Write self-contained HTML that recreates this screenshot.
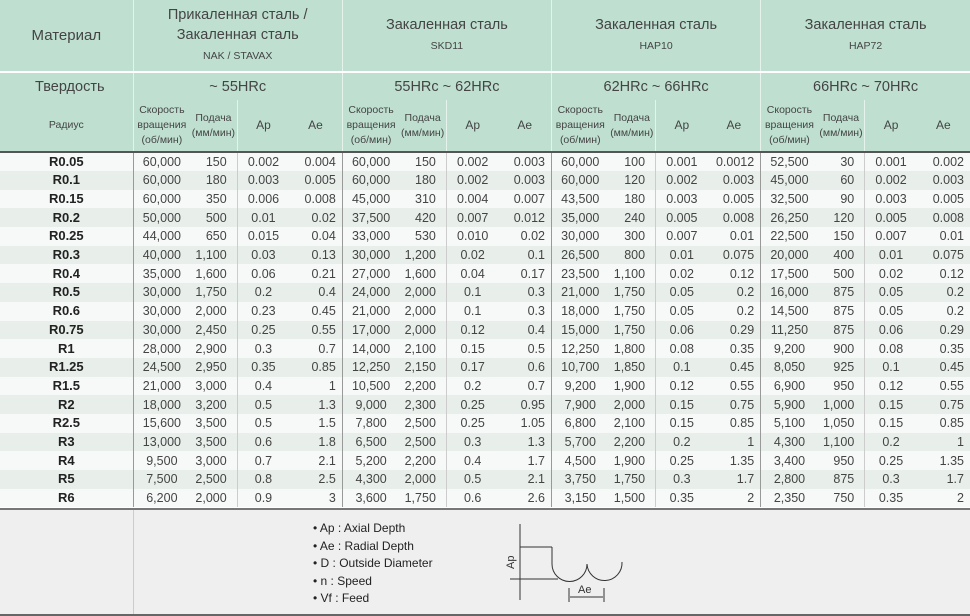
<!DOCTYPE html>
<html><head><meta charset="utf-8"><style>
*{margin:0;padding:0;box-sizing:border-box}
body{width:970px;height:616px;background:#fff;font-family:"Liberation Sans","DejaVu Sans",sans-serif;color:#333;position:relative;overflow:hidden}
table{border-collapse:collapse;table-layout:fixed;position:absolute;left:0;top:0;width:970px}
td{font-size:12.5px;white-space:nowrap;overflow:hidden}
.h td{background:#bfe0d1;color:#444;text-align:center;vertical-align:middle}
.r1 td{height:72px;font-size:14.5px;line-height:20px;border-bottom:2px solid #fff}
.r2 td{height:28px;font-size:14.5px}
.r3 td{height:52px;font-size:10.5px;line-height:15px;border-bottom:2px solid #555}
.h td.b{border-left:1px solid #e6f3ec}
.sm{font-size:10.5px}
.d td{height:18.7px;line-height:18px;font-size:12.5px;color:#444}
.d:nth-child(odd) td{background:#f6f9f7}
.d:nth-child(even) td{background:#e8efeb}
.d td.n{text-align:center;font-weight:bold;color:#222;font-size:13px}
.d td.s{text-align:center;border-left:1px solid #999}
.d td.f{text-align:right;padding-right:10px}
.d td.a{text-align:center;border-left:1px solid #ccc}
.d td.e{text-align:right;padding-right:6px}
#foot{position:absolute;left:0;top:508px;width:970px;height:108px;background:#efefef;border-top:2px solid #777;border-bottom:2px solid #666}
#foot .l{position:absolute;left:133px;top:0;bottom:0;border-left:1px solid #ccc}
#leg{position:absolute;left:313px;top:10px;font-size:12px;line-height:17.5px;color:#222}
</style></head><body>
<table>
<colgroup><col style="width:133px">
<col style="width:57px"><col style="width:47px"><col style="width:52px"><col style="width:53px">
<col style="width:57px"><col style="width:47px"><col style="width:52px"><col style="width:53px">
<col style="width:57px"><col style="width:47px"><col style="width:52px"><col style="width:53px">
<col style="width:57px"><col style="width:47px"><col style="width:52px"><col style="width:53px">
</colgroup>
<tr class="h r1"><td style="font-size:15px">Материал</td>
<td colspan="4" class="b">Прикаленная сталь /<br>Закаленная сталь<br><span class="sm">NAK / STAVAX</span></td>
<td colspan="4" class="b">Закаленная сталь<br><span class="sm">SKD11</span></td>
<td colspan="4" class="b">Закаленная сталь<br><span class="sm">HAP10</span></td>
<td colspan="4" class="b">Закаленная сталь<br><span class="sm">HAP72</span></td></tr>
<tr class="h r2"><td style="text-align:left;padding-left:35px">Твердость</td>
<td colspan="4" class="b">~ 55HRc</td><td colspan="4" class="b">55HRc ~ 62HRc</td><td colspan="4" class="b">62HRc ~ 66HRc</td><td colspan="4" class="b">66HRc ~ 70HRc</td></tr>
<tr class="h r3"><td>Радиус</td>
<td class="b">Скорость<br>вращения<br>(об/мин)</td><td>Подача<br>(мм/мин)</td><td class="b" style="font-size:12px">Ap</td><td style="font-size:12px">Ae</td>
<td class="b">Скорость<br>вращения<br>(об/мин)</td><td>Подача<br>(мм/мин)</td><td class="b" style="font-size:12px">Ap</td><td style="font-size:12px">Ae</td>
<td class="b">Скорость<br>вращения<br>(об/мин)</td><td>Подача<br>(мм/мин)</td><td class="b" style="font-size:12px">Ap</td><td style="font-size:12px">Ae</td>
<td class="b">Скорость<br>вращения<br>(об/мин)</td><td>Подача<br>(мм/мин)</td><td class="b" style="font-size:12px">Ap</td><td style="font-size:12px">Ae</td></tr>
<tbody id="tb"></tbody>
</table>
<div id="foot"><div class="l"></div>
<div id="leg">• Ap : Axial Depth<br>• Ae : Radial Depth<br>• D : Outside Diameter<br>• n : Speed<br>• Vf : Feed</div>
<svg style="position:absolute;left:490px;top:0" width="150" height="106" viewBox="0 0 150 106" fill="none" stroke="#333" stroke-width="1">
<line x1="30" y1="14" x2="30" y2="90"/>
<line x1="30" y1="37" x2="62" y2="37"/><line x1="62" y1="37" x2="62" y2="54"/>
<path d="M62 54 A17.5 17.5 0 0 0 97 54 A17.5 17.5 0 0 0 132 52"/>
<line x1="20" y1="69" x2="68" y2="69"/>
<line x1="79" y1="78" x2="79" y2="92"/><line x1="114" y1="78" x2="114" y2="92"/>
<line x1="80" y1="87" x2="113" y2="87"/>
<text x="-59" y="24" transform="rotate(-90)" font-size="11" fill="#333" stroke="none" font-family="Liberation Sans">Ap</text>
<text x="88" y="83" font-size="11" fill="#333" stroke="none" font-family="Liberation Sans">Ae</text>
</svg></div>
<script>
var D=`R0.05|60,000|150|0.002|0.004|60,000|150|0.002|0.003|60,000|100|0.001|0.0012|52,500|30|0.001|0.002
R0.1|60,000|180|0.003|0.005|60,000|180|0.002|0.003|60,000|120|0.002|0.003|45,000|60|0.002|0.003
R0.15|60,000|350|0.006|0.008|45,000|310|0.004|0.007|43,500|180|0.003|0.005|32,500|90|0.003|0.005
R0.2|50,000|500|0.01|0.02|37,500|420|0.007|0.012|35,000|240|0.005|0.008|26,250|120|0.005|0.008
R0.25|44,000|650|0.015|0.04|33,000|530|0.010|0.02|30,000|300|0.007|0.01|22,500|150|0.007|0.01
R0.3|40,000|1,100|0.03|0.13|30,000|1,200|0.02|0.1|26,500|800|0.01|0.075|20,000|400|0.01|0.075
R0.4|35,000|1,600|0.06|0.21|27,000|1,600|0.04|0.17|23,500|1,100|0.02|0.12|17,500|500|0.02|0.12
R0.5|30,000|1,750|0.2|0.4|24,000|2,000|0.1|0.3|21,000|1,750|0.05|0.2|16,000|875|0.05|0.2
R0.6|30,000|2,000|0.23|0.45|21,000|2,000|0.1|0.3|18,000|1,750|0.05|0.2|14,500|875|0.05|0.2
R0.75|30,000|2,450|0.25|0.55|17,000|2,000|0.12|0.4|15,000|1,750|0.06|0.29|11,250|875|0.06|0.29
R1|28,000|2,900|0.3|0.7|14,000|2,100|0.15|0.5|12,250|1,800|0.08|0.35|9,200|900|0.08|0.35
R1.25|24,500|2,950|0.35|0.85|12,250|2,150|0.17|0.6|10,700|1,850|0.1|0.45|8,050|925|0.1|0.45
R1.5|21,000|3,000|0.4|1|10,500|2,200|0.2|0.7|9,200|1,900|0.12|0.55|6,900|950|0.12|0.55
R2|18,000|3,200|0.5|1.3|9,000|2,300|0.25|0.95|7,900|2,000|0.15|0.75|5,900|1,000|0.15|0.75
R2.5|15,600|3,500|0.5|1.5|7,800|2,500|0.25|1.05|6,800|2,100|0.15|0.85|5,100|1,050|0.15|0.85
R3|13,000|3,500|0.6|1.8|6,500|2,500|0.3|1.3|5,700|2,200|0.2|1|4,300|1,100|0.2|1
R4|9,500|3,000|0.7|2.1|5,200|2,200|0.4|1.7|4,500|1,900|0.25|1.35|3,400|950|0.25|1.35
R5|7,500|2,500|0.8|2.5|4,300|2,000|0.5|2.1|3,750|1,750|0.3|1.7|2,800|875|0.3|1.7
R6|6,200|2,000|0.9|3|3,600|1,750|0.6|2.6|3,150|1,500|0.35|2|2,350|750|0.35|2`;
var h='',c=['s','f','a','e'];
D.split('\n').forEach(function(l){var p=l.split('|');h+='<tr class="d"><td class="n">'+p[0]+'</td>';
for(var i=1;i<17;i++)h+='<td class="'+c[(i-1)%4]+'">'+p[i]+'</td>';h+='</tr>';});
document.getElementById('tb').innerHTML=h;
</script>
</body></html>
